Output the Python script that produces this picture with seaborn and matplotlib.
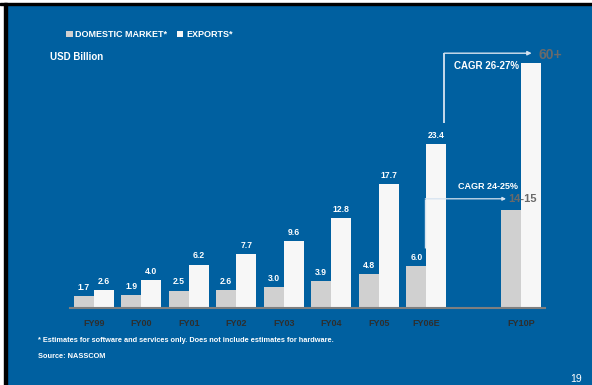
import matplotlib
matplotlib.use("Agg")
import matplotlib.pyplot as plt
from matplotlib.patches import Rectangle
import seaborn as sns
import pandas as pd

# ---- data ----
years = ['FY99', 'FY00', 'FY01', 'FY02', 'FY03', 'FY04', 'FY05', 'FY06E', 'FY10P']
domestic = [1.7, 1.9, 2.5, 2.6, 3.0, 3.9, 4.8, 6.0, 14]
exports = [2.6, 4.0, 6.2, 7.7, 9.6, 12.8, 17.7, 23.4, 35]
series = ['DOMESTIC MARKET*', 'EXPORTS*']
projection_labels = ['14-15', '60+']
cagr_labels = ['CAGR 24-25%', 'CAGR 26-27%']

order = years[:-1] + [''] + years[-1:]

df = pd.DataFrame({
    'year': years * 2,
    'value': domestic + exports,
    'series': [series[0]] * len(years) + [series[1]] * len(years),
})

BG = '#0060a0'
FONT = 'Liberation Sans'
plt.rcParams['font.family'] = [FONT, 'DejaVu Sans']

W, H = 592, 385
fig = plt.figure(figsize=(W / 100, H / 100), dpi=100, facecolor=BG)

# page frame (white margin + black border)
fig.add_artist(Rectangle((0, 1 - 3 / H), 1, 3 / H, transform=fig.transFigure, color='white', zorder=0))
fig.add_artist(Rectangle((0, 0), 4 / W, 1, transform=fig.transFigure, color='white', zorder=0))
fig.add_artist(Rectangle((0, 1 - 5 / H), 1, 2 / H, transform=fig.transFigure, color='black', zorder=1))
fig.add_artist(Rectangle((4 / W, 0), 3 / W, 1 - 3 / H, transform=fig.transFigure, color='black', zorder=1))

ax = fig.add_axes([70 / W, (H - 308) / H, 475 / W, 266 / H])
ax.set_facecolor(BG)

sns.barplot(data=df, x='year', y='value', hue='series', order=order, hue_order=series,
            palette=['#d0d0d0', '#f7f7f7'], width=0.84, saturation=1, errorbar=None,
            ax=ax, linewidth=0)

ax.set_ylim(0, 38)
ax.set_xlim(-0.5, 9.5)
ax.set_xlabel('')
ax.set_ylabel('')
ax.set_yticks([])
for s in ['top', 'right', 'left']:
    ax.spines[s].set_visible(False)
ax.spines['bottom'].set_color('#7f7f7f')
ax.spines['bottom'].set_linewidth(1.5)
ax.tick_params(axis='x', length=0, pad=8, labelsize=6.5, labelcolor='#2e2e2e')
for t in ax.get_xticklabels():
    t.set_fontweight('bold')

# value labels (not for the projected year)
for cont in ax.containers:
    labels = []
    for bar in cont:
        cx = bar.get_x() + bar.get_width() / 2
        labels.append('' if cx > 8.5 else f'{bar.get_height():.1f}')
    ax.bar_label(cont, labels=labels, padding=3, color='white', fontsize=6.2, fontweight='bold')

# legend
sns.move_legend(ax, 'upper left', bbox_to_anchor=(66 / W, 1 - 30 / H), bbox_transform=fig.transFigure,
                ncol=2, frameon=False, title=None, borderaxespad=0, borderpad=0,
                handlelength=0.75, handleheight=0.75, handletextpad=0.3, columnspacing=1.0,
                labelcolor='white', prop={'weight': 'bold', 'size': 6.5, 'family': FONT})

fig.text(50 / W, 1 - 57 / H, 'USD Billion', color='white', fontsize=7, fontweight='bold', va='center')

# CAGR arrows
LC = '#d6e3f0'
# exports projection
ax.plot([7.38, 7.38], [26.4, 36.4], color=LC, lw=1.3, solid_capstyle='butt')
ax.annotate('', xy=(9.22, 36.4), xytext=(7.38, 36.4),
            arrowprops=dict(arrowstyle='-|>', color=LC, lw=1, mutation_scale=6, shrinkA=0, shrinkB=0))
ax.text(9.36, 36.2, projection_labels[1], color='#6a6a6a', fontsize=10, fontweight='bold', va='center', ha='left')
ax.text(8.27, 34.6, cagr_labels[1], color='white', fontsize=7, fontweight='bold', va='center', ha='center')
# domestic projection
ax.plot([6.98, 6.98], [8.6, 15.6], color=LC, lw=1.0, solid_capstyle='butt')
ax.annotate('', xy=(8.68, 15.6), xytext=(6.98, 15.6),
            arrowprops=dict(arrowstyle='-|>', color=LC, lw=0.9, mutation_scale=5, shrinkA=0, shrinkB=0))
ax.text(8.72, 15.5, projection_labels[0], color='#6a6a6a', fontsize=8, fontweight='bold', va='center', ha='left')
ax.text(8.29, 17.3, cagr_labels[0], color='white', fontsize=6.5, fontweight='bold', va='center', ha='center')

# footnotes
fig.text(38 / W, 1 - 341 / H, '* Estimates for software and services only. Does not include estimates for hardware.',
         color='white', fontsize=5.35, fontweight='bold', va='center')
fig.text(38 / W, 1 - 357 / H, 'Source: NASSCOM', color='white', fontsize=5.35, fontweight='bold', va='center')
fig.text(582 / W, 1 - 379 / H, '19', color='white', fontsize=7.5, va='center', ha='right')

fig.savefig('out.png', dpi=100, facecolor=BG)
